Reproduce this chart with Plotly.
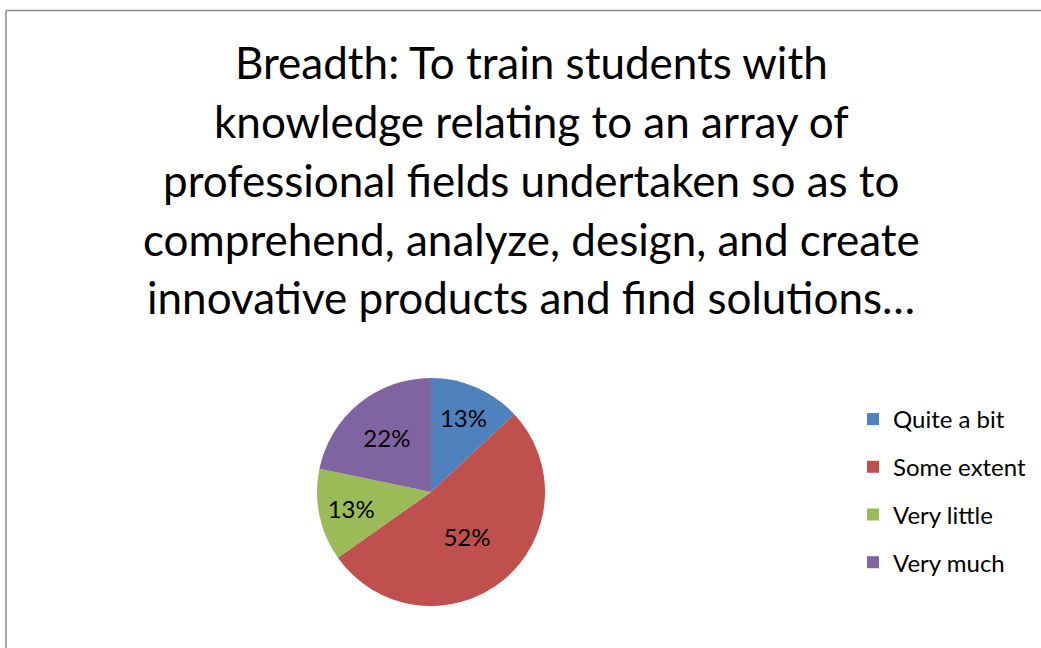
import plotly.graph_objects as go

# survey answers (share of respondents)
labels = ["Quite a bit", "Some extent", "Very little", "Very much"]
values = [3, 12, 3, 5]
colors = ["#4F81BD", "#C0504D", "#9BBB59", "#8064A2"]

title_lines = [
    "Breadth: To train students with",
    "knowledge relating to an array of",
    "professional fields undertaken so as to",
    "comprehend, analyze, design, and create",
    "innovative products and find solutions…",
]

W, H = 1041, 648
FONT = "Lato"


def px(x):
    return x / W


def py(y):
    return 1 - y / H


fig = go.Figure()

fig.add_trace(go.Pie(
    labels=labels,
    values=values,
    sort=False,
    direction="clockwise",
    rotation=0,
    marker=dict(colors=colors, line=dict(width=0)),
    textinfo="percent",
    texttemplate="%{percent:.0%}",
    textposition="inside",
    insidetextorientation="horizontal",
    textfont=dict(family=FONT, size=24, color="black"),
    domain=dict(x=[px(317), px(545)], y=[py(606), py(378)]),
    showlegend=False,
    hoverinfo="label+percent",
))

# legend entries as separate groups so the rows get Excel-like spacing
for name, c in zip(labels, colors):
    fig.add_trace(go.Scatter(
        x=[None], y=[None], mode="markers", name=name,
        legendgroup=name,
        marker=dict(symbol="square", size=13, color=c),
    ))

# title, one annotation per line
line_y = [62, 121, 180, 239, 297]
for txt, yy in zip(title_lines, line_y):
    fig.add_annotation(
        text=txt, xref="paper", yref="paper",
        x=px(531), y=py(yy), xanchor="center", yanchor="middle",
        showarrow=False, font=dict(family=FONT, size=44, color="black"),
    )

# chart area border (left and top edges visible)
fig.add_shape(type="line", xref="paper", yref="paper",
              x0=px(6), x1=px(6), y0=0, y1=py(10.5),
              line=dict(color="#8C8C8C", width=1.5))
fig.add_shape(type="line", xref="paper", yref="paper",
              x0=px(6), x1=1, y0=py(10.5), y1=py(10.5),
              line=dict(color="#8C8C8C", width=1.5))

fig.update_layout(
    width=W, height=H,
    margin=dict(l=0, r=0, t=0, b=0),
    paper_bgcolor="white",
    plot_bgcolor="white",
    xaxis=dict(visible=False),
    yaxis=dict(visible=False),
    legend=dict(
        x=px(853), y=py(397), xanchor="left", yanchor="top",
        font=dict(family=FONT, size=24, color="black"),
        tracegroupgap=13.5, itemsizing="constant",
        bgcolor="rgba(0,0,0,0)",
    ),
)

# drop the default body margin so the figure fills the window exactly
fig.write_html(
    "out.html",
    config={"displayModeBar": False},
    post_script="document.body.style.margin='0';document.body.style.overflow='hidden';",
)
